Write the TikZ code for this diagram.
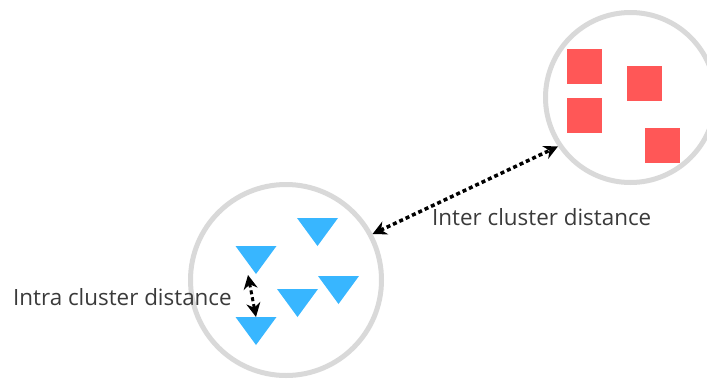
\documentclass[tikz,border=0pt]{standalone}
\usepackage{fontspec}
\setmainfont{Open Sans}
\usetikzlibrary{arrows.meta}
\definecolor{ringgray}{HTML}{D9D9D9}
\definecolor{squarered}{HTML}{FF5757}
\definecolor{triblue}{HTML}{38B6FF}
\definecolor{labelgray}{HTML}{3A3A3A}

\begin{document}
\begin{tikzpicture}[
      x=1pt, y=-1pt,
      cluster/.style = {shape=circle, draw=ringgray, line width=5pt, inner sep=0pt},
      redpoint/.style = {shape=rectangle, fill=squarered, minimum size=35pt, inner sep=0pt},
      bluepoint/.style = {fill=triblue},
      gapline/.style = {line width=3.5pt, dash pattern=on 4pt off 3pt,
        {Stealth[length=14pt,width=14pt]}-{Stealth[length=14pt,width=14pt]}},
      caption/.style = {anchor=base west, inner sep=0pt, text=labelgray,
        font=\fontsize{22.4}{27}\selectfont}
    ]
  \useasboundingbox (0,0) rectangle (707,381);

  % the two clusters
  \node[cluster, minimum size=191pt] (low) at (286,280) {};
  \node[cluster, minimum size=170pt] (high) at (630.5,97.5) {};

  \node[redpoint] (r1) at (584.5,66.5) {};
  \node[redpoint] (r2) at (644.5,83.5) {};
  \node[redpoint] (r3) at (584.5,115.5) {};
  \node[redpoint] (r4) at (662,145) {};

  \foreach \cx/\ty in {317.5/218, 256/246, 338.5/276, 297.5/289, 256/317}
    \fill[bluepoint] (\cx-20.5,\ty) -- (\cx+20.5,\ty) -- (\cx,\ty+28) -- cycle;

  % distances
  \coordinate (intratop) at (248,275);
  \coordinate (intrabot) at (256,317);
  \draw[gapline, line width=3pt] (intratop) -- (intrabot);
  \draw[gapline] (low.28) -- (high.214);

  \node[caption] (inter) at (432,225) {Inter cluster distance};
  \node[caption] (intra) at (13,305) {Intra cluster distance};
\end{tikzpicture}
\end{document}
